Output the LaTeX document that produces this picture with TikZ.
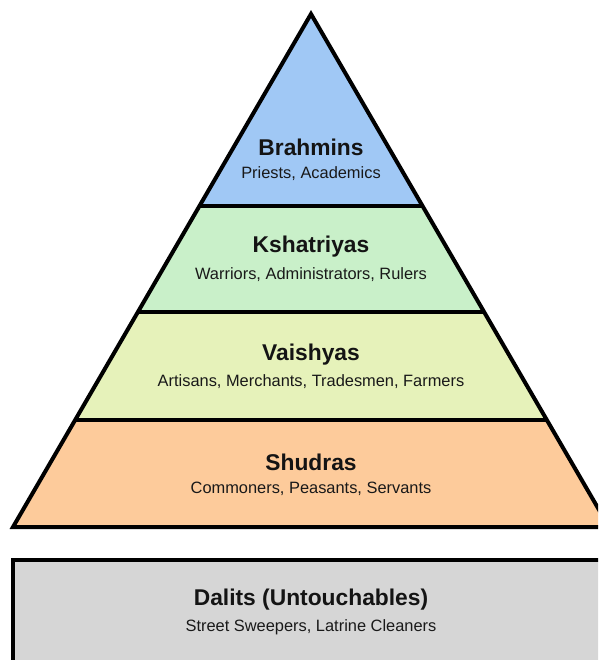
\documentclass[tikz,border=0pt]{standalone}
\usepackage{fontspec}
\setmainfont{Liberation Sans}
\definecolor{cBlue}{HTML}{A0C8F5}
\definecolor{cGreen}{HTML}{C9F0C9}
\definecolor{cYellow}{HTML}{E6F2BA}
\definecolor{cOrange}{HTML}{FDCB9B}
\definecolor{cGray}{HTML}{D6D6D6}
\tikzset{
  edge/.style={line width=4pt, black, line join=miter},
  ttl/.style={font=\fontsize{22.8}{24}\selectfont\bfseries, text=black!92, inner sep=0pt},
  sub/.style={font=\fontsize{16.4}{18}\selectfont, text=black!90, inner sep=0pt}
}
\begin{document}
\begin{tikzpicture}[x=1pt,y=-1pt]
\useasboundingbox (0,0) rectangle (598,660);
\clip (0,0) rectangle (598,660);
% corners
\coordinate (A) at (311,14);
\coordinate (L1) at (199.5,206); \coordinate (R1) at (422.5,206);
\coordinate (L2) at (138,312);   \coordinate (R2) at (484,312);
\coordinate (L3) at (75,420);    \coordinate (R3) at (547,420);
\coordinate (L4) at (13,527);    \coordinate (R4) at (609,527);
% fills
\fill[cBlue] (A) -- (L1) -- (R1) -- cycle;
\fill[cGreen] (L1) -- (L2) -- (R2) -- (R1) -- cycle;
\fill[cYellow] (L2) -- (L3) -- (R3) -- (R2) -- cycle;
\fill[cOrange] (L3) -- (L4) -- (R4) -- (R3) -- cycle;
% lines
\draw[edge] (A) -- (L4) -- (R4) -- cycle;
\draw[edge] (L1) -- (R1);
\draw[edge] (L2) -- (R2);
\draw[edge] (L3) -- (R3);
% Dalits box
\coordinate (D1) at (13,560);
\coordinate (D2) at (640,700);
\draw[edge, fill=cGray] (D1) rectangle (D2);
% texts
\node[ttl] (t1) at (311,147) {Brahmins};
\node[sub] (s1) at (311,174) {Priests, Academics};
\node[ttl] (t2) at (311,247) {Kshatriyas};
\node[sub] (s2) at (311,275) {Warriors, Administrators, Rulers};
\node[ttl] (t3) at (311,355) {Vaishyas};
\node[sub] (s3) at (311,382) {Artisans, Merchants, Tradesmen, Farmers};
\node[ttl] (t4) at (311,462) {Shudras};
\node[sub] (s4) at (311,489) {Commoners, Peasants, Servants};
\node[ttl] (t5) at (311,600) {Dalits (Untouchables)};
\node[sub] (s5) at (311,627) {Street Sweepers, Latrine Cleaners};
\end{tikzpicture}
\end{document}
